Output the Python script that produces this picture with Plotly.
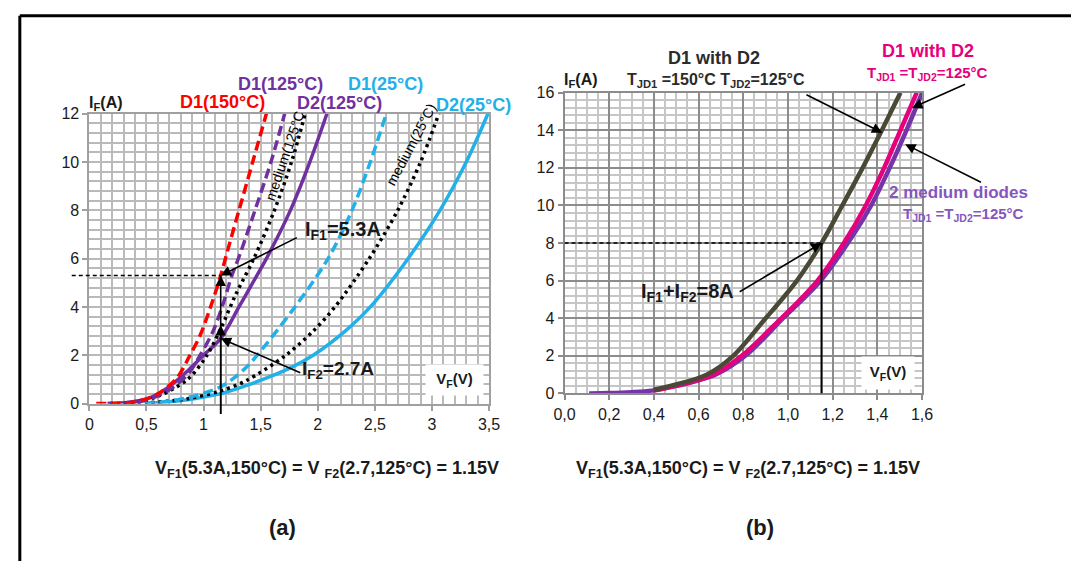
import plotly.graph_objects as go

# ---------------- panel (a): I_F (A) versus V_F (V) ----------------
A_D1_150_I = [0.0, 0.02, 0.1, 0.4, 1.08, 1.9, 2.83, 3.98, 5.3, 6.33, 8.0, 10.0, 12.0]
A_D1_150_V = [0.06, 0.30, 0.43, 0.60, 0.77, 0.87, 0.97, 1.06, 1.15, 1.21, 1.31, 1.43, 1.55]

A_D1_125_I = [0.0, 0.03, 0.16, 0.54, 1.2, 2.0, 2.96, 4.04, 5.26, 6.2, 8.0, 10.0, 12.0]
A_D1_125_V = [0.16, 0.35, 0.51, 0.69, 0.86, 0.97, 1.08, 1.165, 1.245, 1.32, 1.45, 1.59, 1.71]

A_MED_125_I = [0.0, 0.05, 0.3, 1.0, 2.0, 3.2, 4.5, 6.0, 8.0, 10.0, 12.0]
A_MED_125_V = [0.18, 0.40, 0.60, 0.86, 1.03, 1.16, 1.28, 1.44, 1.62, 1.77, 1.89]

A_D2_125_I = [0.0, 0.03, 0.2, 0.67, 1.35, 2.0, 2.7, 4.0, 5.0, 6.0, 8.0, 10.0, 12.0]
A_D2_125_V = [0.16, 0.31, 0.51, 0.69, 0.86, 1.0, 1.15, 1.31, 1.43, 1.55, 1.76, 1.93, 2.08]

A_D1_25_I = [0.0, 0.07, 0.34, 0.67, 1.0, 1.48, 2.0, 4.0, 6.0, 8.0, 10.0, 12.0]
A_D1_25_V = [0.35, 0.66, 0.94, 1.14, 1.25, 1.37, 1.47, 1.80, 2.09, 2.30, 2.46, 2.60]

A_MED_25_I = [0.0, 0.03, 0.2, 0.51, 0.94, 2.0, 3.0, 4.0, 6.0, 8.0, 10.0, 12.0]
A_MED_25_V = [0.30, 0.51, 0.86, 1.14, 1.37, 1.72, 1.96, 2.15, 2.45, 2.70, 2.90, 3.06]

A_D2_25_I = [0.0, 0.16, 0.4, 0.74, 1.0, 1.5, 2.0, 3.0, 4.0, 6.0, 8.0, 10.0, 12.0]
A_D2_25_V = [0.50, 0.86, 1.14, 1.37, 1.52, 1.77, 1.96, 2.24, 2.46, 2.79, 3.07, 3.30, 3.49]

# ---------------- panel (b): paralleled diodes ----------------
B_MIX_I = [0.2, 1.0, 2.0, 4.0, 5.0, 6.0, 8.0, 10.0, 12.0, 14.0, 16.0]
B_MIX_V = [0.40, 0.636, 0.755, 0.90, 0.972, 1.04, 1.15, 1.243, 1.334, 1.42, 1.503]

B_125_I = [0.15, 1.0, 2.0, 4.0, 5.0, 6.0, 8.0, 10.0, 12.0, 14.0, 16.0]
B_125_V = [0.40, 0.667, 0.793, 0.97, 1.055, 1.132, 1.25, 1.348, 1.43, 1.503, 1.576]

B_MED_I = [0.0, 0.02, 0.07, 0.15, 0.4, 1.0, 2.0, 4.0, 6.0, 8.0, 10.0, 12.0, 14.0, 16.0]
B_MED_V = [0.11, 0.20, 0.30, 0.39, 0.50, 0.675, 0.809, 0.978, 1.146, 1.268, 1.372, 1.455, 1.53, 1.60]

# operating points
VF_OP = 1.15
IF1_OP = 5.3
IF2_OP = 2.7
ISUM_OP = 8.0

# ---------------- geometry helpers ----------------
W, H = 1082, 570
FONT = "Liberation Sans, Arial, sans-serif"
A_X0, A_X1, A_Y0, A_Y1 = 80, 488, 407.7, 109
B_X0, B_X1, B_Y0, B_Y1 = 565, 930, 397.3, 87.3


def fx(p):
    return p / W


def fy(p):
    return 1 - p / H


RED = "#ff0000"
PURPLE = "#7030a0"
CYAN = "#22b0e8"
OLIVE = "#4a4936"
MAGENTA = "#e5007d"
BPURPLE = "#7535a8"
LPURPLE = "#8655c0"
GRID_A = "#bababa"
GRID_MAJ = "#8c8c8c"
GRID_MIN = "#c6c6c6"

fig = go.Figure()


def curve(v, i, color, dash, width, xa, ya):
    fig.add_trace(go.Scatter(
        x=v, y=i, mode="lines", xaxis=xa, yaxis=ya, hoverinfo="skip",
        line=dict(color=color, width=width, dash=dash, shape="spline", smoothing=0.9),
        showlegend=False))


DASH = "10px,5px"
DOT = "3px,4px"
curve(A_D2_25_V, A_D2_25_I, CYAN, "solid", 3.5, "x", "y")
curve(A_MED_25_V, A_MED_25_I, "black", DOT, 3.5, "x", "y")
curve(A_D1_25_V, A_D1_25_I, CYAN, DASH, 3.5, "x", "y")
curve(A_D2_125_V, A_D2_125_I, PURPLE, "solid", 3.5, "x", "y")
curve(A_MED_125_V, A_MED_125_I, "black", DOT, 3.5, "x", "y")
curve(A_D1_125_V, A_D1_125_I, PURPLE, DASH, 3.5, "x", "y")
curve(A_D1_150_V, A_D1_150_I, RED, DASH, 3.5, "x", "y")

curve(B_MED_V, B_MED_I, BPURPLE, "solid", 4.5, "x2", "y2")
curve(B_125_V, B_125_I, MAGENTA, "solid", 4.5, "x2", "y2")
curve(B_MIX_V, B_MIX_I, OLIVE, "solid", 4.5, "x2", "y2")

tickfont = dict(size=16, color="#1a1a1a", family=FONT)


def axis(domain, rng, dtick, mdtick, gcol, mcol, lcol, anchor, fmt=None):
    d = dict(domain=domain, range=rng, anchor=anchor, tick0=0, dtick=dtick,
             showgrid=True, gridcolor=gcol, gridwidth=2,
             minor=dict(tick0=0, dtick=mdtick, showgrid=True, gridcolor=mcol, gridwidth=2),
             zeroline=False, showline=True, mirror=True, linecolor=lcol, linewidth=2,
             ticks="outside", ticklen=5, tickwidth=2, tickcolor=lcol,
             tickfont=tickfont, fixedrange=True)
    if fmt:
        d["tickformat"] = fmt
    return d


fig.update_layout(
    width=W, height=H, margin=dict(l=0, r=0, t=0, b=0),
    paper_bgcolor="white", plot_bgcolor="white", separators=",.",
    showlegend=False, font=dict(family=FONT, size=16, color="#1a1a1a"),
    xaxis=axis([fx(A_X0), fx(A_X1)], [0, 3.5], 0.5, 0.1, GRID_A, GRID_A, "#a0a0a0", "y"),
    yaxis=axis([fy(A_Y0), fy(A_Y1)], [0, 12], 2, 0.4, GRID_A, GRID_A, "#a0a0a0", "x"),
    xaxis2=axis([fx(B_X0), fx(B_X1)], [0, 1.6], 0.2, 0.05, GRID_MAJ, GRID_MIN, GRID_MAJ, "y2", ".1f"),
    yaxis2=axis([fy(B_Y0), fy(B_Y1)], [0, 16], 2, 0.4, GRID_MAJ, GRID_MIN, GRID_MAJ, "x2"),
)

shapes = [
    # outer frame (top and left edges)
    dict(type="line", xref="paper", yref="paper", x0=fx(9), x1=1, y0=fy(8), y1=fy(8),
         line=dict(color="black", width=3)),
    dict(type="line", xref="paper", yref="paper", x0=fx(9), x1=fx(9), y0=fy(8), y1=0,
         line=dict(color="black", width=3)),
    # (a) dashed I_F1 level
    dict(type="line", xref="x domain", yref="y", x0=-18 / (A_X1 - A_X0), x1=VF_OP / 3.5,
         y0=IF1_OP, y1=IF1_OP, line=dict(color="black", width=1.5, dash="4px,3px")),
    # (b) dashed 8 A level and vertical at 1.15 V
    dict(type="line", xref="x2", yref="y2", x0=0, x1=VF_OP, y0=ISUM_OP, y1=ISUM_OP,
         line=dict(color="black", width=1.5, dash="4px,3px")),
    dict(type="line", xref="x2", yref="y2", x0=VF_OP, x1=VF_OP, y0=0, y1=ISUM_OP,
         line=dict(color="black", width=2)),
]
fig.update_layout(shapes=shapes)

ann = []


def label(text, x, y, size, color="#1a1a1a", bold=True, **kw):
    t = f"<b>{text}</b>" if bold else text
    d = dict(text=t, x=fx(x), y=fy(y), xref="paper", yref="paper", xanchor="center",
             yanchor="middle", showarrow=False,
             font=dict(size=size, color=color, family=FONT))
    d.update(kw)
    ann.append(d)


def arrow(xa, ya, hx, hy, tx, ty, head=2):
    ann.append(dict(x=hx, y=hy, ax=tx, ay=ty, xref=xa, yref=ya, axref=xa, ayref=ya,
                    text="", showarrow=True, arrowhead=head, arrowsize=1.3,
                    arrowwidth=1.6, arrowcolor="black", standoff=0, startstandoff=0))


# ----- panel (a) texts -----
label("I<sub>F</sub>(A)", 97, 98, 16)
label("D1(150°C)", 216, 97, 18, RED)
label("D1(125°C)", 275, 78, 18, PURPLE)
label("D2(125°C)", 335, 98, 18, PURPLE)
label("D1(25°C)", 382, 78, 18, CYAN)
label("D2(25°C)", 472, 100, 18, CYAN)
label("medium(125°C", 280, 152, 14, "black", bold=False, textangle=-71)
label("medium(25°C)", 408, 141, 14, "black", bold=False, textangle=-62)
label("I<sub>F1</sub>=5.3A", 339, 229, 20)
label("I<sub>F2</sub>=2.7A", 334, 373, 19)
label("V<sub>F</sub>(V)", 453, 383, 15, bgcolor="white", width=57, height=30, borderpad=0)
label("V<sub>F1</sub>(5.3A,150°C) = V <sub>F2</sub>(2.7,125°C) = 1.15V", 323, 476, 18)
label("(a)", 277, 535, 22)

# ----- panel (a) arrows -----
arrow("x", "y", VF_OP, IF1_OP, VF_OP, -0.5)
arrow("x", "y", VF_OP, 3.25, VF_OP, -0.5)
arrow("x", "y", VF_OP, IF1_OP, 1.83, 6.9)
arrow("x", "y", VF_OP, IF2_OP, 1.86, 1.25)
arrow("x", "y", VF_OP, -0.1, 1.295, -2.37)

# ----- panel (b) texts -----
label("I<sub>F</sub>(A)", 582, 75, 16)
label("D1 with D2", 718, 52, 18, "#2b2b2b")
label("T<sub>JD1</sub> =150°C T<sub>JD2</sub>=125°C", 720, 75, 16, "#2b2b2b")
label("D1 with D2", 936, 44, 18, MAGENTA)
label("T<sub>JD1</sub> =T<sub>JD2</sub>=125°C", 936, 67, 15, MAGENTA)
label("2 medium diodes", 967, 190, 17, LPURPLE)
label("T<sub>JD1</sub> =T<sub>JD2</sub>=125°C", 972, 213, 15, LPURPLE)
label("I<sub>F1</sub>+I<sub>F2</sub>=8A", 691, 293, 20)
label("V<sub>F</sub>(V)", 895, 376, 15, bgcolor="white", width=52, height=32, borderpad=0)
label("V<sub>F1</sub>(5.3A,150°C) = V <sub>F2</sub>(2.7,125°C) = 1.15V", 752, 476, 18)
label("(b)", 765, 535, 22)

# ----- panel (b) arrows -----
arrow("x2", "y2", VF_OP, ISUM_OP, 0.777, 5.36)
arrow("x2", "y2", VF_OP, -0.1, 1.053, -3.66)
arrow("x2", "y2", 1.422, 13.87, 1.076, 15.93)
arrow("x2", "y2", 1.555, 15.19, 1.799, 16.49)
arrow("x2", "y2", 1.524, 13.26, 1.87, 11.2)

fig.update_layout(annotations=ann)

fig.write_html("out.html")
